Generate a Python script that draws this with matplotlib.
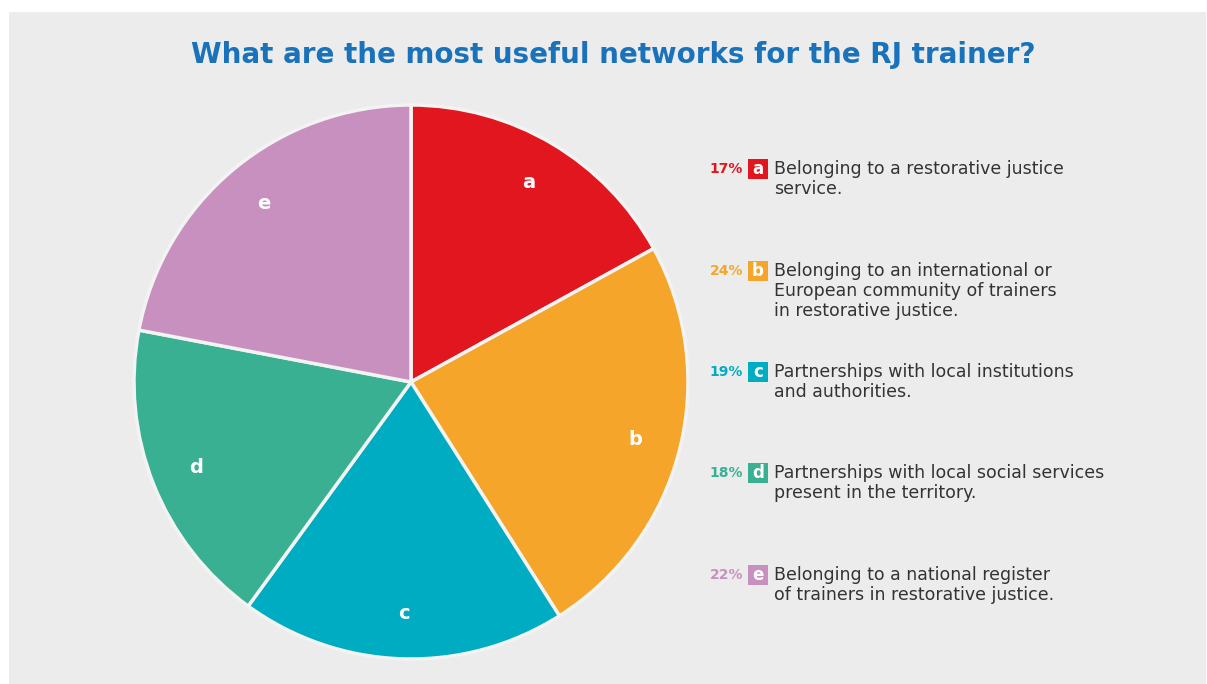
import matplotlib
matplotlib.use("Agg")
from matplotlib import pyplot as plt
from matplotlib.patches import Rectangle

# Data
letters = ['a', 'b', 'c', 'd', 'e']
shares = [17, 24, 19, 18, 22]
descriptions = [
    ['Belonging to a restorative justice', 'service.'],
    ['Belonging to an international or', 'European community of trainers', 'in restorative justice.'],
    ['Partnerships with local institutions', 'and authorities.'],
    ['Partnerships with local social services', 'present in the territory.'],
    ['Belonging to a national register', 'of trainers in restorative justice.'],
]
colors = ['#E1161F', '#F5A62A', '#00ACC2', '#3AB093', '#C790BF']
title = 'What are the most useful networks for the RJ trainer?'

W, H = 1207, 684
plt.rcParams['font.family'] = ['DejaVu Sans']

fig = plt.figure(figsize=(W / 100, H / 100), dpi=100)
fig.patch.set_facecolor('white')

# gray panel
fig.patches.append(Rectangle((9 / W, 0), (W - 10) / W, (H - 12) / H,
                             transform=fig.transFigure, facecolor='#EBECEB',
                             edgecolor='none', zorder=-1))

def fx(x):
    return x / W

def fy(y):
    return 1 - y / H

fig.text(fx(613), fy(55), title, ha='center', va='center', fontsize=20,
         fontweight='bold', color='#1A72BA')

# pie
cx, cy, r = 411, 382, 277
ax = fig.add_axes([fx(cx - r), fy(cy + r), 2 * r / W, 2 * r / H])
ax.set_zorder(2)
wedges, texts = ax.pie(shares, colors=colors, startangle=90, counterclock=False,
                       labels=letters, labeldistance=0.835,
                       wedgeprops=dict(edgecolor='#F2F3F2', linewidth=2.5))
for t in texts:
    t.set_color('white')
    t.set_fontweight('bold')
    t.set_fontsize(14)
    t.set_ha('center')
    t.set_va('center')
ax.set_xlim(-1.0, 1.0)
ax.set_ylim(-1.0, 1.0)
ax.set_aspect('equal')
ax.axis('off')

# legend
row_y = [169, 271, 372, 473, 575]
for i in range(len(letters)):
    y = row_y[i]
    fig.text(fx(743), fy(y), f'{shares[i]}%', ha='right', va='center',
             fontsize=10, fontweight='bold', color=colors[i])
    fig.patches.append(Rectangle((fx(748), fy(y + 10)), 20 / W, 20 / H,
                                 transform=fig.transFigure, facecolor=colors[i],
                                 edgecolor='none'))
    fig.text(fx(758), fy(y), letters[i], ha='center', va='center',
             fontsize=12, fontweight='bold', color='white')
    for j, line in enumerate(descriptions[i]):
        fig.text(fx(774), fy(y + j * 20), line, ha='left', va='center',
                 fontsize=12.5, color='#333333')

fig.savefig('out.png', dpi=100)
